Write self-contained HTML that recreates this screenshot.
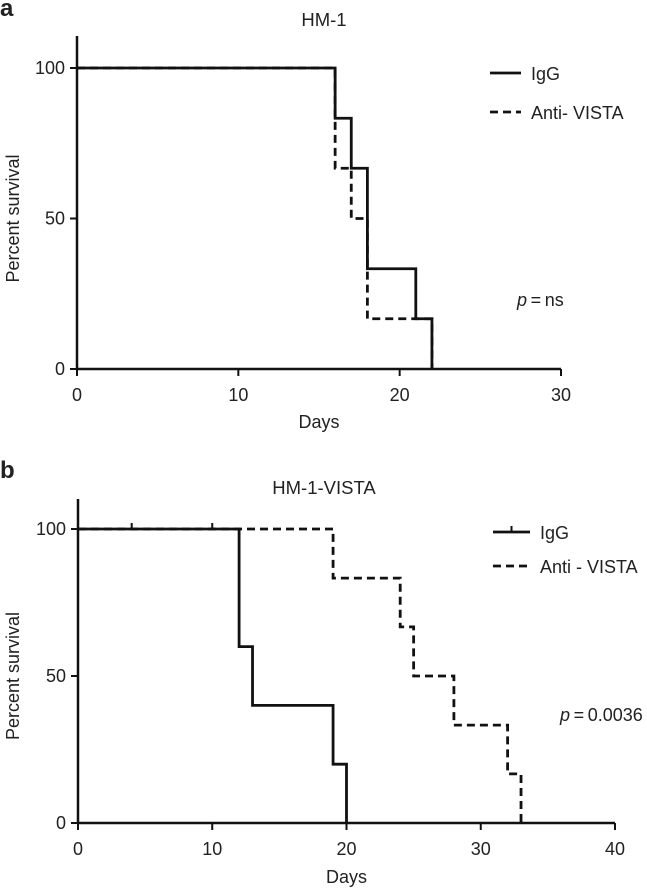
<!DOCTYPE html>
<html><head><meta charset="utf-8"><style>
body{margin:0;background:#fff;}
svg text{font-family:"Liberation Sans",Arial,sans-serif;fill:#222;}
</style></head><body>
<svg id="s" width="647" height="889" xmlns="http://www.w3.org/2000/svg"></svg>
<script>
const aIgGDays=[0,16,17,18,21,22];
const aIgGVals=[100,83.3,66.7,33.3,16.7,0];
const aAntiDays=[0,16,17,18,22];
const aAntiVals=[100,66.7,50,16.7,0];
const aXTicks=[0,10,20,30];
const yTicks=[0,50,100];
const bIgGDays=[0,12,13,19,20];
const bIgGVals=[100,60,40,20,0];
const bIgGCensor=[4,10];
const bAntiDays=[0,19,24,25,28,32,33];
const bAntiVals=[100,83.3,66.7,50,33.3,16.7,0];
const bXTicks=[0,10,20,30,40];
const NS="http://www.w3.org/2000/svg";
const svg=document.getElementById('s');
function el(t,a,p){const e=document.createElementNS(NS,t);for(const k in a)e.setAttribute(k,a[k]);(p||svg).appendChild(e);return e;}
function panel(o){
  const g=el('g',{});
  
  
  const X=v=>o.x0+(v-o.xmin)*(o.x1-o.x0)/(o.xmax-o.xmin);
  const Yf=v=>o.y0-(v/100)*(o.y0-o.y100);
  const ya=el('line',{x1:o.x0,y1:o.ytop,x2:o.x0,y2:o.y0,stroke:'#111','stroke-width':2.5},g);
  
  
  const xa=el('line',{x1:o.x0,y1:o.y0,x2:o.x1,y2:o.y0,stroke:'#111','stroke-width':2.5},g);
  
  
  o.xticks.forEach(v=>{el('line',{x1:X(v),y1:o.y0,x2:X(v),y2:o.y0+7,stroke:'#111','stroke-width':2},g);
    const t=el('text',{x:X(v),y:o.y0+32,'font-size':18,'text-anchor':'middle'},g);t.textContent=v;
    
    });
  yTicks.forEach(v=>{el('line',{x1:o.x0-7,y1:Yf(v),x2:o.x0,y2:Yf(v),stroke:'#111','stroke-width':2},g);
    const t=el('text',{x:o.x0-12,y:Yf(v)+6,'font-size':18,'text-anchor':'end'},g);t.textContent=v;
    
    });
  function step(days,vals,dash,name){
    let d='M'+X(days[0])+','+Yf(vals[0]);
    for(let i=1;i<days.length;i++){d+=' H'+X(days[i])+' V'+Yf(vals[i]);}
    const p=el('path',{d:d,fill:'none',stroke:'#111','stroke-width':2.8,'stroke-dasharray':dash},g);
    
    
  }
  step(o.anti.d,o.anti.v,'8,5','anti-vista-curve');
  step(o.igg.d,o.igg.v,'none','igg-curve');
  (o.censor||[]).forEach(c=>{const l=el('line',{x1:X(c),y1:Yf(100)-6,x2:X(c),y2:Yf(100),stroke:'#111','stroke-width':2},g);
    
    });
  const tt=el('text',{x:324,y:o.titleY,'font-size':18.5,'text-anchor':'middle'},g);tt.textContent=o.title;
  
  
  const pl=el('text',{x:o.px,y:o.panelY,'font-size':24,'font-weight':'bold'},g);pl.textContent=o.letter;
  
  
  const yl=el('text',{x:0,y:0,'font-size':18,'text-anchor':'middle',transform:'translate(19,'+((o.y0+o.y100)/2)+') rotate(-90)'},g);yl.textContent='Percent survival';
  
  
  const xl=el('text',{x:(o.x0+o.x1)/2,y:o.daysY,'font-size':18,'text-anchor':'middle'},g);xl.textContent='Days';
  
  
  const lg=el('g',{},g);
  
  
  el('line',{x1:o.lx0,y1:o.ly1,x2:o.lx1,y2:o.ly1,stroke:'#111','stroke-width':2.8},lg);
  if(o.censor) el('line',{x1:(o.lx0+o.lx1)/2,y1:o.ly1-6,x2:(o.lx0+o.lx1)/2,y2:o.ly1,stroke:'#111','stroke-width':2},lg);
  el('line',{x1:o.lx0,y1:o.ly2,x2:o.lx1,y2:o.ly2,stroke:'#111','stroke-width':2.8,'stroke-dasharray':'8,5'},lg);
  const t1=el('text',{x:o.lx1+10,y:o.ly1+7,'font-size':18},lg);t1.textContent='IgG';
  
  
  const t2=el('text',{x:o.lx1+10,y:o.ly2+7,'font-size':18},lg);t2.textContent=o.antiLabel;
  
  
  const pv=el('text',{x:o.pvx,y:o.pvy,'font-size':18},g);
  pv.innerHTML='<tspan font-style="italic">p</tspan>\u2009=\u2009'+o.pval;
  
  
}
panel({name:'panel-a',letter:'a',px:0,panelY:16,title:'HM-1',titleY:26,x0:77,x1:561,xmin:0,xmax:30,y0:369,y100:68,ytop:36,
  xticks:aXTicks,igg:{d:aIgGDays,v:aIgGVals},anti:{d:aAntiDays,v:aAntiVals},daysY:428,
  lx0:490,lx1:521,ly1:73,ly2:112,antiLabel:'Anti- VISTA',pvx:517,pvy:306,pval:'ns'});
panel({name:'panel-b',letter:'b',px:0,panelY:478,title:'HM-1-VISTA',titleY:494,x0:78,x1:615,xmin:0,xmax:40,y0:823,y100:529,ytop:499,
  xticks:bXTicks,igg:{d:bIgGDays,v:bIgGVals},anti:{d:bAntiDays,v:bAntiVals},censor:bIgGCensor,daysY:883,
  lx0:493,lx1:530,ly1:532,ly2:566,antiLabel:'Anti - VISTA',pvx:560,pvy:721,pval:'0.0036'});
</script>
</body></html>
